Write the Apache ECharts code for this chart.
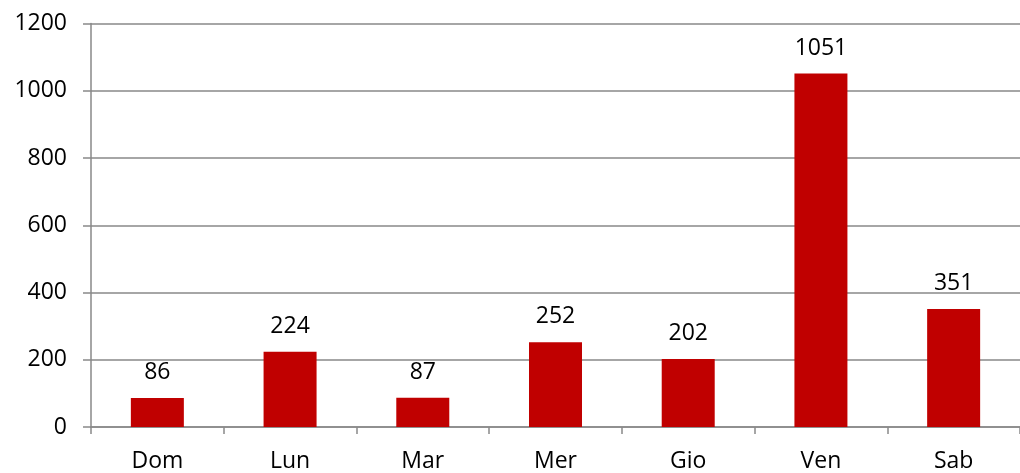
<!DOCTYPE html>
<html>
<head>
<meta charset="utf-8">
<script src="https://cdn.jsdelivr.net/npm/echarts@6/dist/echarts.min.js"></script>
<style>
html, body { margin: 0; padding: 0; background: #fff; }
#container { width: 1020px; height: 473px; }
</style>
</head>
<body>
<div id="container"></div>
<script>
// giorni della settimana e valori
var giorni = ['Dom', 'Lun', 'Mar', 'Mer', 'Gio', 'Ven', 'Sab']
var valori = [86, 224, 87, 252, 202, 1051, 351]

var dom = document.getElementById("container")
var myChart = echarts.init(dom)
var font = 'Open Sans'

var option = {
    animation: false,
    grid: { left: 91, top: 23.5, width: 933, height: 404 },
    xAxis: {
        type: 'category',
        data: giorni,
        axisLine: { lineStyle: { color: '#898989', width: 1.5 } },
        axisTick: { show: true, length: 7, lineStyle: { color: '#898989', width: 1.5 } },
        axisLabel: { color: '#000', fontFamily: font, fontSize: 23, margin: 23 }
    },
    yAxis: {
        type: 'value',
        min: 0,
        max: 1200,
        interval: 200,
        axisLine: { show: true, lineStyle: { color: '#898989', width: 1.5 } },
        axisTick: { show: true, length: 8, lineStyle: { color: '#898989', width: 1.5 } },
        splitLine: { lineStyle: { color: '#898989', width: 1.5 } },
        axisLabel: {
            color: '#000', fontFamily: font, fontSize: 23, margin: 24,
            formatter: function (v) { return String(v) }
        }
    },
    series: [{
        type: 'bar',
        data: valori,
        barWidth: 53,
        itemStyle: { color: '#C00000' },
        label: {
            show: true,
            position: 'top',
            distance: 14,
            color: '#000',
            fontFamily: font,
            fontSize: 23
        }
    }]
}

myChart.setOption(option)
</script>
</body>
</html>
